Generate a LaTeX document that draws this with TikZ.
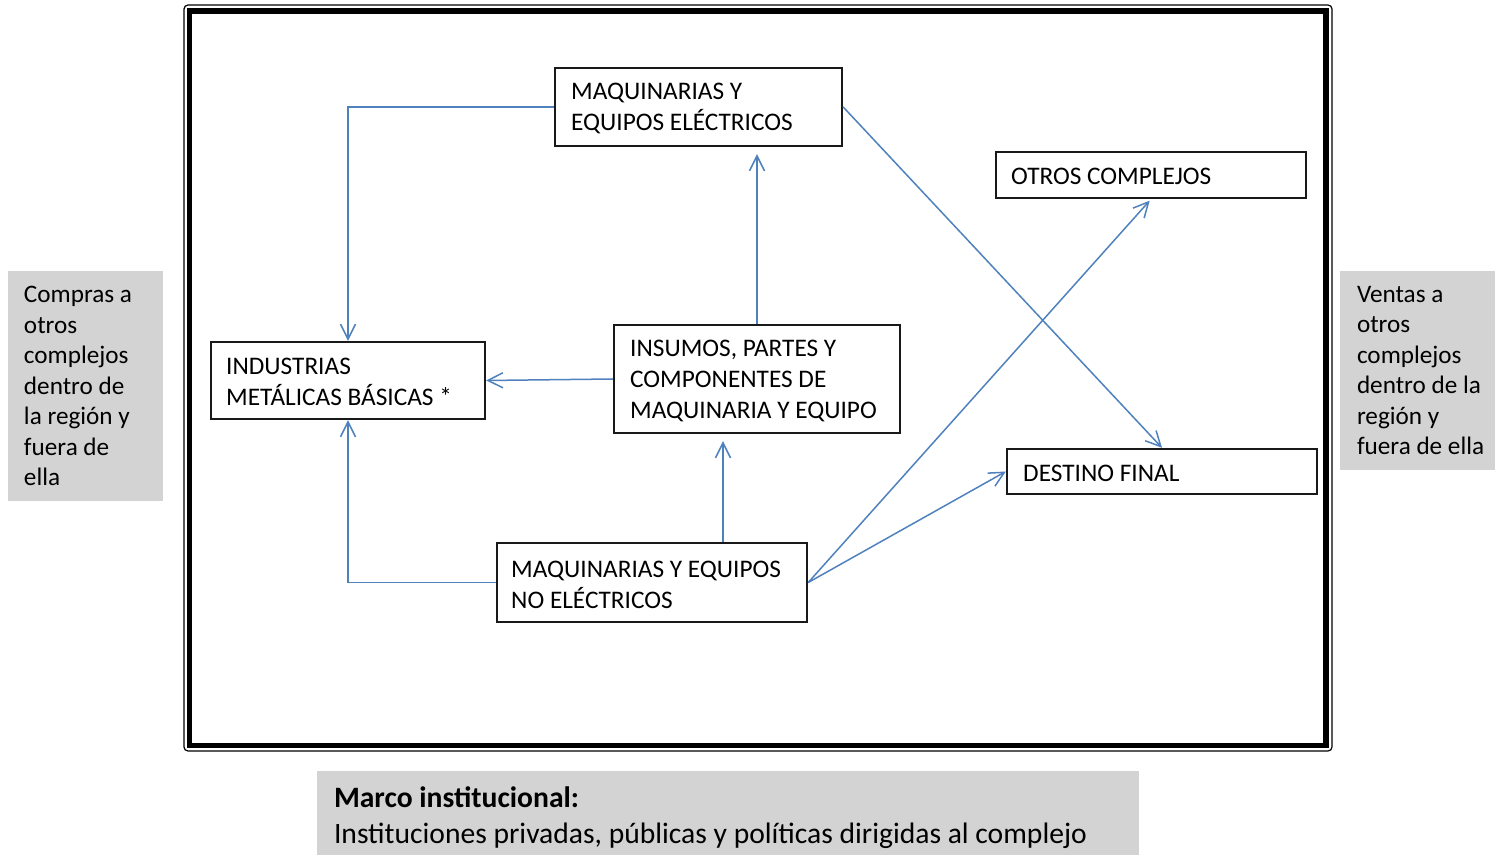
\documentclass[tikz,border=0pt]{standalone}
\usepackage{fontspec}
\setmainfont{Carlito}
\usetikzlibrary{arrows.meta}
\definecolor{linkblue}{RGB}{79,129,189}
\definecolor{panelgrey}{RGB}{211,211,211}
\begin{document}
\begin{tikzpicture}[x=0.5pt,y=-0.5pt,
  boxshape/.style={draw=black!90, line width=1.2pt, inner sep=0pt},
  boxtext/.style={anchor=west, align=left, inner sep=0pt, yshift=-0.8pt, font=\fontsize{12.65}{15.5}\selectfont},
  paneltext/.style={anchor=west, align=left, inner sep=0pt, font=\fontsize{12.6}{15.25}\selectfont},
  arr/.style={draw=linkblue, line width=0.75pt, -{Straight Barb[length=7.5pt,width=7.5pt,line width=0.75pt]}},
  lnk/.style={draw=linkblue, line width=0.75pt}]
\useasboundingbox (0,0) rectangle (1495,855);

% outer frame
\draw[line width=0.6pt, rounded corners=2pt] (184,5) rectangle (1332,751);
\draw[line width=2.9pt] (189.5,11) rectangle (1326,745.5);

% grey panels
\node[fill=panelgrey, minimum width=77.5pt, minimum height=115pt, inner sep=0pt] (left) at (85.5,386) {};
\node[paneltext] (leftt) at ([xshift=8pt]left.west) {Compras a\\otros\\complejos\\dentro de\\la región y\\fuera de\\ella};
\node[fill=panelgrey, minimum width=77.5pt, minimum height=99.5pt, inner sep=0pt] (right) at (1417.5,370.5) {};
\node[paneltext] (rightt) at ([xshift=8.5pt]right.west) {Ventas a\\otros\\complejos\\dentro de la\\región y\\fuera de ella};
\node[fill=panelgrey, minimum width=411pt, minimum height=42pt, inner sep=0pt] (bottom) at (728,813) {};
\node[anchor=west, align=left, inner sep=0pt, font=\fontsize{14.8}{18}\selectfont] (bottomt) at ([xshift=8.5pt,yshift=-2.3pt]bottom.west) {\textbf{Marco institucional:}\\Instituciones privadas, públicas y políticas dirigidas al complejo};

% boxes
\node[boxshape, minimum width=143.5pt, minimum height=39pt] (maqe) at (698.5,107) {};
\node[boxtext] (maqet) at ([xshift=8.5pt]maqe.west) {MAQUINARIAS Y\\EQUIPOS ELÉCTRICOS};

\node[boxshape, minimum width=155pt, minimum height=23pt] (otros) at (1151,175) {};
\node[boxtext] (otrost) at ([xshift=8pt]otros.west) {OTROS COMPLEJOS};

\node[boxshape, minimum width=137pt, minimum height=38.5pt] (ind) at (348,380.5) {};
\node[boxtext] (indt) at ([xshift=8pt]ind.west) {INDUSTRIAS\\METÁLICAS BÁSICAS *};

\node[boxshape, minimum width=143pt, minimum height=54pt] (ins) at (757,379) {};
\node[boxtext] (inst) at ([xshift=8.5pt]ins.west) {INSUMOS, PARTES Y\\COMPONENTES DE\\MAQUINARIA Y EQUIPO};

\node[boxshape, minimum width=155pt, minimum height=22.5pt] (dest) at (1162,471.5) {};
\node[boxtext] (destt) at ([xshift=8.5pt]dest.west) {DESTINO FINAL};

\node[boxshape, minimum width=155pt, minimum height=39.5pt] (noe) at (652,582.5) {};
\node[boxtext] (noet) at ([xshift=7.5pt,yshift=-0.5pt]noe.west) {MAQUINARIAS Y EQUIPOS\\NO ELÉCTRICOS};

% connectors
\draw[arr] (maqe.west) -- (ind.north |- maqe.west) -- (ind.north);
\draw[arr, shorten >=3.5pt] (ins.north) -- (ins.north |- maqe.south);
\draw[arr] (ins.west) -- (ind.east);
\draw[arr, shorten >=3.5pt] ([xshift=35.5pt]noe.north) -- ([xshift=35.5pt]noe.north |- ins.south);
\draw[arr] (noe.west) -- (ind.south |- noe.west) -- (ind.south);
\draw[arr, shorten >=1pt] (noe.east) -- (otros.south);
\draw[arr] (noe.east) -- (dest.west);
\draw[arr] (maqe.east) -- (dest.north);
\end{tikzpicture}
\end{document}
